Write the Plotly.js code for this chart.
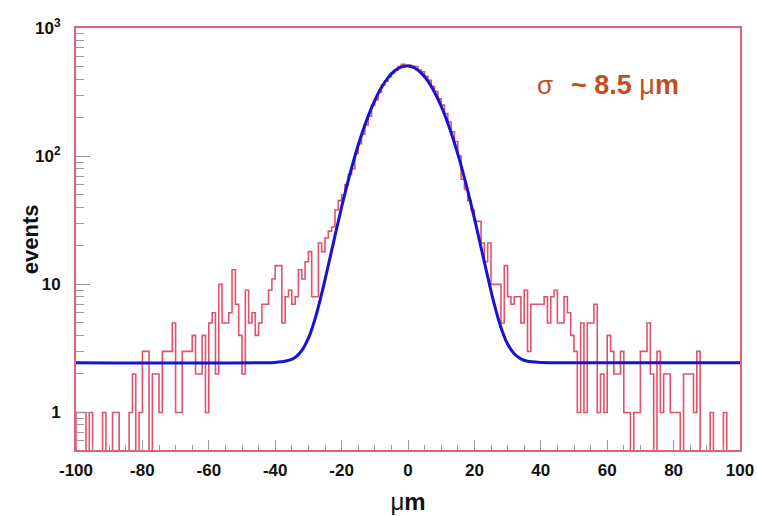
<!DOCTYPE html>
<html>
<head>
<meta charset="utf-8">
<script src="https://cdn.plot.ly/plotly-3.0.1.min.js"></script>
<style>html,body{margin:0;padding:0;background:#fff;}#chart{width:757px;height:516px;}</style>
</head>
<body>
<div id="chart"></div>
<script>
// Histogram: 200 bins of 1 µm from -100 to 100
const binLow = -100;
const binWidth = 1;
const counts = [
  // -100 .. -81
  1, 1, 1, 0, 1, 0, 0, 0, 1, 0, 0, 1, 1, 0, 0, 0, 1, 2, 0, 1,
  // -80 .. -61
  3, 3, 0, 2, 2, 1, 3, 3, 3, 5, 1, 1, 3, 3, 3, 4, 2, 2, 4, 1,
  // -60 .. -41
  5, 6, 2, 10, 5, 5, 6, 13, 7, 4, 2, 9, 5, 6, 4, 5, 7, 7, 9, 11,
  // -40 .. -21
  14, 14, 5, 8, 9, 7, 8, 13, 11, 15, 18, 8, 8, 21, 18, 23, 26, 28, 38, 45,
  // -20 .. -1
  50, 60, 72, 80, 105, 125, 148, 175, 205, 250, 275, 315, 360, 385, 415, 445, 470, 500, 520, 510,
  // 0 .. 19
  515, 505, 500, 470, 455, 420, 390, 350, 320, 280, 250, 215, 185, 155, 130, 100, 66, 55, 45, 38,
  // 20 .. 39
  31, 31, 21, 15, 21, 10, 10, 10, 5, 14, 8, 7, 8, 8, 5, 9, 3, 7, 7, 7,
  // 40 .. 59
  7, 8, 5, 8, 9, 5, 5, 8, 6, 4, 3, 1, 5, 1, 5, 5, 7, 1, 2, 1,
  // 60 .. 79
  4, 3, 2, 2, 3, 1, 1, 0, 1, 1, 3, 3, 5, 2, 0, 3, 1, 2, 2, 1,
  // 80 .. 99
  1, 1, 0, 2, 2, 2, 1, 3, 0, 0, 0, 1, 0, 0, 0, 1, 0, 0, 0, 0
];

// Fit curve (gaussian + constant)
const fitX = [-100, -40, -38, -36, -34, -32, -30, -28, -26, -24, -22, -20, -18, -16, -14, -12, -10, -8, -6, -4, -2, 0,
              2, 4, 6, 8, 10, 12, 14, 16, 18, 20, 22, 24, 26, 28, 30, 32, 34, 36, 38, 40, 100];
const fitY = [2.45, 2.46, 2.49, 2.55, 2.69, 3.04, 3.80, 5.37, 8.45, 14.1, 23.9, 40.0, 64.6, 99.8, 146.8, 205.4, 272.9, 343.5, 410.2, 464.1, 497.9, 505.9,
              487.3, 444.6, 384.3, 315.4, 245.1, 180.8, 126.6, 84.3, 53.6, 32.7, 19.4, 11.5, 6.98, 4.61, 3.42, 2.87, 2.62, 2.51, 2.48, 2.46, 2.45];

const xTickVals = [-100, -80, -60, -40, -20, 0, 20, 40, 60, 80, 100];
const xTickText = ['-100', '-80', '-60', '-40', '-20', '0', '20', '40', '60', '80', '100'];
const yTickVals = [1, 10, 100, 1000];
const yTickText = ['1', '10', '10<sup>2</sup>', '10<sup>3</sup>'];

const histColor = '#e2526c';
const frameColor = '#e0607a';
const fitColor = '#1414d2';
const floorVal = 0.1; // empty bins drop below the frame, as in ROOT

// build step outline
const hx = [binLow], hy = [floorVal];
for (let i = 0; i < counts.length; i++) {
  hx.push(binLow + i * binWidth);
  hy.push(counts[i] > 0 ? counts[i] : floorVal);
}
hx.push(binLow + counts.length * binWidth); hy.push(counts[counts.length - 1] > 0 ? counts[counts.length - 1] : floorVal);
hx.push(binLow + counts.length * binWidth); hy.push(floorVal);

const font = 'Liberation Sans, Arial, Helvetica, sans-serif';

const traces = [
  {x: hx, y: hy, type: 'scatter', mode: 'lines', line: {shape: 'hv', color: histColor, width: 1.6}, hoverinfo: 'skip'},
  {x: fitX, y: fitY, type: 'scatter', mode: 'lines', line: {shape: 'spline', smoothing: 1, color: fitColor, width: 3}, hoverinfo: 'skip'}
];

const layout = {
  width: 757, height: 516,
  margin: {l: 76, r: 17, t: 28, b: 66},
  paper_bgcolor: '#fff', plot_bgcolor: '#fff',
  showlegend: false,
  font: {family: font, color: '#111'},
  xaxis: {
    range: [-100, 100], tickvals: xTickVals, ticktext: xTickText, ticks: 'inside', ticklen: 10, tickcolor: '#999', tickwidth: 1,
    minor: {dtick: 5, tick0: 0, ticks: 'inside', ticklen: 5, tickcolor: '#999', showgrid: false},
    showgrid: false, zeroline: false, showline: true, linecolor: frameColor, linewidth: 2, mirror: true,
    tickfont: {size: 17, weight: 'bold', color: '#111'}, ticklabelstandoff: 4,
    title: {text: 'μ<b>m</b>', font: {size: 24, color: '#111'}, standoff: 14}
  },
  yaxis: {
    type: 'log', range: [Math.log10(0.51), 3], tickvals: yTickVals, ticktext: yTickText,
    ticks: 'inside', ticklen: 14, tickcolor: '#999', tickwidth: 1,
    minor: {dtick: 'D1', ticks: 'inside', ticklen: 8, tickcolor: '#999', showgrid: false},
    showgrid: false, zeroline: false, showline: true, linecolor: frameColor, linewidth: 2, mirror: true,
    tickfont: {size: 17, weight: 'bold', color: '#111'}, ticklabelstandoff: 10
  },
  annotations: [
    {xref: 'paper', yref: 'paper', x: -0.069, y: 0.5, xanchor: 'center', yanchor: 'middle', showarrow: false,
     textangle: -90, text: '<b>events</b>', font: {size: 22, color: '#111', family: font}},
    {xref: 'paper', yref: 'paper', x: 0.692, y: 0.865, xanchor: 'left', yanchor: 'middle', showarrow: false,
     text: 'σ', font: {size: 26, color: '#c2501c', family: font}},
    {xref: 'paper', yref: 'paper', x: 0.742, y: 0.865, xanchor: 'left', yanchor: 'middle', showarrow: false,
     text: '<b>~ 8.5 </b>μ<b>m</b>', font: {size: 27, color: '#c2501c', family: font}}
  ]
};

Plotly.newPlot('chart', traces, layout, {staticPlot: true, displayModeBar: false});
</script>
</body>
</html>
